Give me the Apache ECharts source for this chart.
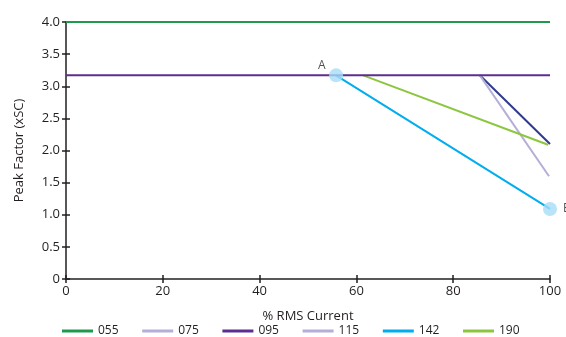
<!DOCTYPE html>
<html>
<head>
<meta charset="utf-8">
<script src="https://cdn.jsdelivr.net/npm/echarts@6/dist/echarts.min.js"></script>
<style>html,body{margin:0;padding:0;background:#fff;}#c{width:566px;height:337px;}</style>
</head>
<body>
<div id="c"></div>
<script>
var seriesNames = ['055', '075', '095', '115', '142', '190'];
var seriesColors = ['#1f9a4c', '#2e3a8c', '#5e2d91', '#b4aed9', '#00adee', '#8cc63f'];
var legendColors = ['#1f9a4c', '#b4aed9', '#5e2d91', '#b4aed9', '#00adee', '#8cc63f'];
var x055 = [0, 100],     y055 = [4.0, 4.0];
var x075 = [85.5, 100],  y075 = [3.17, 2.10];
var x095 = [0, 100],     y095 = [3.17, 3.17];
var x115 = [85.5, 99.8], y115 = [3.17, 1.60];
var x142 = [55.8, 100],  y142 = [3.17, 1.09];
var x190 = [61.4, 99.6], y190 = [3.17, 2.09];
var pointLabels = ['A', 'B'];
var xTicks = [0, 20, 40, 60, 80, 100];
var yTicks = [0, 0.5, 1.0, 1.5, 2.0, 2.5, 3.0, 3.5, 4.0];

var xs = [x055, x075, x095, x115, x142, x190];
var ys = [y055, y075, y095, y115, y142, y190];
function pairs(x, y) { return x.map(function (v, i) { return [v, y[i]]; }); }

var font = 'Open Sans';
var txt = '#231f20';
var series = seriesNames.map(function (n, i) {
  return {
    name: n, type: 'line', data: pairs(xs[i], ys[i]), symbol: 'none',
    lineStyle: { color: seriesColors[i], width: 2 }, itemStyle: { color: seriesColors[i] },
    z: (n === '095' ? 3 : 2), silent: true, animation: false
  };
});
series.push({
  type: 'scatter', data: pairs(x142, y142).map(function (p, i) {
    return { value: p, label: { show: true, formatter: pointLabels[i], position: i === 0 ? [-11, -9] : 'right', distance: 6 } };
  }),
  symbolSize: 14, itemStyle: { color: '#a6dcf6' }, z: 4, animation: false,
  label: { color: txt, fontFamily: font, fontSize: 12 }
});

var legends = seriesNames.map(function (n, i) {
  return {
    left: 62 + 80.2 * i, top: 325, padding: 0, itemWidth: 31, itemHeight: 3,
    textStyle: { fontFamily: font, fontSize: 12, color: txt },
    data: [{ name: n, icon: 'rect', itemStyle: { color: legendColors[i] } }]
  };
});

var chart = echarts.init(document.getElementById('c'), null, { renderer: 'canvas' });
chart.setOption({
  animation: false,
  grid: { left: 66, right: 16, top: 22, bottom: 58 },
  legend: legends,
  xAxis: [{
    type: 'value', min: 0, max: 100, interval: 20,
    name: '% RMS Current', nameLocation: 'middle', nameGap: 31,
    nameTextStyle: { fontFamily: font, fontSize: 13, color: txt },
    axisLine: { lineStyle: { color: txt, width: 1.5 } },
    axisTick: { show: true, length: 4, lineStyle: { color: txt, width: 1.5 } },
    axisLabel: { fontFamily: font, fontSize: 13, color: txt, margin: 6 },
    splitLine: { show: false }
  }, {
    type: 'value', min: 0, max: 100, interval: 20, position: 'bottom',
    axisLine: { show: false },
    axisTick: { show: true, inside: true, length: 4, lineStyle: { color: txt, width: 1.5 } },
    axisLabel: { show: false }, splitLine: { show: false }
  }],
  yAxis: [{
    type: 'value', min: 0, max: 4, interval: 0.5,
    name: 'Peak Factor (xSC)', nameLocation: 'middle', nameGap: 40,
    nameTextStyle: { fontFamily: font, fontSize: 13, color: txt },
    axisLine: { show: true, lineStyle: { color: txt, width: 1.5 } },
    axisTick: { show: true, length: 4, lineStyle: { color: txt, width: 1.5 } },
    axisLabel: { fontFamily: font, fontSize: 13, color: txt, margin: 6,
      formatter: function (v) { return v === 0 ? '0' : v.toFixed(1); } },
    splitLine: { show: false }
  }, {
    type: 'value', min: 0, max: 4, interval: 0.5, position: 'left',
    axisLine: { show: false },
    axisTick: { show: true, inside: true, length: 4, lineStyle: { color: txt, width: 1.5 } },
    axisLabel: { show: false }, splitLine: { show: false }
  }],
  series: series
});
</script>
</body>
</html>
